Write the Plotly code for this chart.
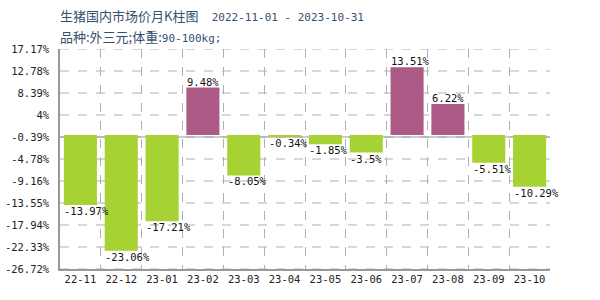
import plotly.graph_objects as go

months = ["22-11", "22-12", "23-01", "23-02", "23-03", "23-04",
          "23-05", "23-06", "23-07", "23-08", "23-09", "23-10"]
changes = [-13.97, -23.06, -17.21, 9.48, -8.05, -0.34,
           -1.85, -3.5, 13.51, 6.22, -5.51, -10.29]
ytick_vals = [17.17, 12.78, 8.39, 4, -0.39, -4.78, -9.16, -13.55, -17.94, -22.33, -26.72]
ytick_text = ["17.17%", "12.78%", "8.39%", "4%", "-0.39%", "-4.78%", "-9.16%",
              "-13.55%", "-17.94%", "-22.33%", "-26.72%"]
title_main = "生猪国内市场价月K柱图"
title_dates = "2022-11-01 - 2023-10-31"
subtitle_cjk = "品种:外三元;体重:"
subtitle_tail = "90-100kg;"

UP = "#ae5a86"
DOWN = "#a7d233"
MONO = "DejaVu Sans Mono, Liberation Mono, monospace"
CJK = "Noto Sans CJK SC, sans-serif"
GRID = "#b0b0b0"

xs = list(range(len(months)))
colors = [UP if v > 0 else DOWN for v in changes]

fig = go.Figure()

# horizontal dashed grid lines at each y tick (drawn below the bars)
for tv in ytick_vals:
    fig.add_shape(type="line", xref="x domain", yref="y", x0=0, x1=1, y0=tv, y1=tv,
                  layer="below", line=dict(color=GRID, width=1, dash="dash"))
fig.add_shape(type="line", xref="x domain", yref="y", x0=0, x1=1, y0=-0.39, y1=-0.39,
              layer="below", line=dict(color="#999999", width=1.2))

fig.add_trace(go.Bar(x=xs, y=changes, marker=dict(color=colors, line=dict(width=0)),
                     width=0.81, hoverinfo="skip"))

for x, v in zip(xs, changes):
    fig.add_annotation(x=x, y=v, text=f"{v:g}%", showarrow=False,
                       xanchor="left", yanchor="bottom" if v > 0 else "top",
                       xshift=-18, yshift=-2 if v > 0 else 2,
                       font=dict(family=MONO, size=10.5, color="#111"))

fig.add_annotation(xref="paper", yref="paper", x=0, y=1, xshift=-2, yshift=34,
                   xanchor="left", yanchor="middle", showarrow=False,
                   text=f"<span style='font-family:{CJK};font-size:13px'>{title_main}</span>"
                        f"<span style='font-family:{MONO};font-size:11px'>  {title_dates}</span>",
                   font=dict(color="#36506e"))
fig.add_annotation(xref="paper", yref="paper", x=0, y=1, xshift=-2, yshift=13,
                   xanchor="left", yanchor="middle", showarrow=False,
                   text=f"<span style='font-family:{CJK};font-size:13px'>{subtitle_cjk}</span>"
                        f"<span style='font-family:{MONO};font-size:11px'>{subtitle_tail}</span>",
                   font=dict(color="#36506e"))

fig.update_layout(
    width=600, height=300,
    margin=dict(l=60, r=50, t=49, b=31, autoexpand=False),
    plot_bgcolor="white", paper_bgcolor="white",
    showlegend=False,
    font=dict(family=MONO, size=10, color="#222"),
    xaxis=dict(range=[-0.5, 11.5], tickvals=xs, ticktext=months,
               showgrid=False, zeroline=False, showline=True, automargin=False,
               linecolor="#999999", linewidth=1.5, ticks="",
               tickfont=dict(family=MONO, size=10.5, color="#222"),
               minor=dict(tick0=-0.5, dtick=1, showgrid=True,
                          gridcolor=GRID, griddash="dash", gridwidth=1)),
    yaxis=dict(range=[-26.72, 17.17], tickmode="array", tickvals=ytick_vals, ticktext=ytick_text,
               showgrid=False,
               zeroline=False, showline=True, linecolor="#999999", linewidth=1.5,
               ticks="", automargin=False, ticklabelstandoff=7,
               tickfont=dict(family=MONO, size=10.5, color="#222")),
)

fig.write_html("out.html")
